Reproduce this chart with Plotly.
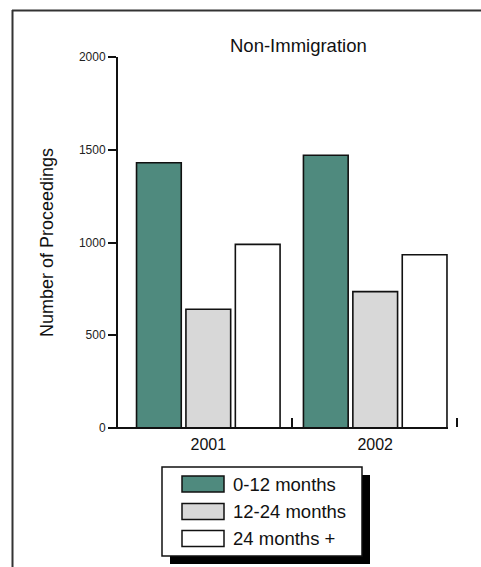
import plotly.graph_objects as go

# ---- data ----
years = ["2001", "2002"]
series_names = ["0-12 months", "12-24 months", "24 months +"]
v_0_12 = [1430, 1470]
v_12_24 = [640, 735]
v_24_plus = [990, 934]
series_colors = ["#4f8a7e", "#d8d8d8", "#ffffff"]
y_ticks = [0, 500, 1000, 1500, 2000]

W, H = 481, 567
ML, MR, MT, MB = 118, 23, 57, 139
PW, PH = W - ML - MR, H - MT - MB

def px(x):
    return (x - ML) / PW

def py(y):
    return (H - MB - y) / PH

FONT = "Liberation Sans, Arial, Helvetica, sans-serif"

fig = go.Figure()
offsets = [-0.43, -0.134, 0.162]
values = [v_0_12, v_12_24, v_24_plus]
xpos = list(range(len(years)))
for name, vals, col, off in zip(series_names, values, series_colors, offsets):
    fig.add_trace(go.Bar(
        x=xpos, y=vals, name=name, width=0.268, offset=off,
        marker=dict(color=col, line=dict(color="#111111", width=1.6)),
        showlegend=False,
    ))

shapes = []
# outer frame (top and left only)
shapes.append(dict(type="line", xref="paper", yref="paper",
                   x0=px(12), y0=py(10.5), x1=px(481), y1=py(10.5),
                   line=dict(color="#333333", width=2)))
shapes.append(dict(type="line", xref="paper", yref="paper",
                   x0=px(12.5), y0=py(10), x1=px(12.5), y1=py(567),
                   line=dict(color="#333333", width=2)))
# x axis line
shapes.append(dict(type="line", xref="paper", yref="paper",
                   x0=px(110), y0=py(428), x1=px(448), y1=py(428),
                   line=dict(color="#111111", width=2)))
# category separator ticks
for xt in [292, 457]:
    shapes.append(dict(type="line", xref="paper", yref="paper",
                       x0=px(xt), y0=py(418), x1=px(xt), y1=py(427),
                       line=dict(color="#111111", width=2)))

# legend box with shadow
lx0, ly0, lx1, ly1 = 162, 467, 362, 556
shapes.append(dict(type="rect", xref="paper", yref="paper",
                   x0=px(lx0 + 8), y0=py(ly0 + 8), x1=px(lx1 + 8), y1=py(ly1 + 8),
                   fillcolor="#000000", line=dict(width=0), layer="above"))
shapes.append(dict(type="rect", xref="paper", yref="paper",
                   x0=px(lx0), y0=py(ly0), x1=px(lx1), y1=py(ly1),
                   fillcolor="#ffffff", line=dict(color="#111111", width=1.5), layer="above"))
annotations = []
item_y = [484, 511.5, 538.5]
for name, col, yc in zip(series_names, series_colors, item_y):
    shapes.append(dict(type="rect", xref="paper", yref="paper",
                       x0=px(182), y0=py(yc - 8), x1=px(224), y1=py(yc + 8),
                       fillcolor=col, line=dict(color="#111111", width=1.5), layer="above"))
    annotations.append(dict(xref="paper", yref="paper", x=px(231), y=py(yc),
                            text=name, showarrow=False, xanchor="left", yanchor="middle",
                            font=dict(family=FONT, size=18.5, color="#111111")))

# title & y-axis title
annotations.append(dict(xref="paper", yref="paper", x=px(298), y=py(45),
                        text="Non-Immigration", showarrow=False,
                        xanchor="center", yanchor="middle",
                        font=dict(family=FONT, size=18.5, color="#111111")))
annotations.append(dict(xref="paper", yref="paper", x=px(47), y=py(243),
                        text="Number of Proceedings", showarrow=False, textangle=-90,
                        xanchor="center", yanchor="middle",
                        font=dict(family=FONT, size=18, color="#111111")))

fig.update_layout(
    width=W, height=H,
    margin=dict(l=ML, r=MR, t=MT, b=MB, pad=0),
    paper_bgcolor="white", plot_bgcolor="white",
    barmode="overlay",
    shapes=shapes, annotations=annotations,
    font=dict(family=FONT, color="#111111"),
    xaxis=dict(range=[-0.541, 1.496], tickvals=xpos, ticktext=years,
               showline=False, showgrid=False, zeroline=False, ticks="",
               ticklabelstandoff=5,
               tickfont=dict(size=16, family=FONT), fixedrange=True),
    yaxis=dict(range=[0, 2000], tickvals=y_ticks, showline=True, linecolor="#111111",
               linewidth=2, ticks="outside", ticklen=8, tickwidth=2, tickcolor="#111111",
               showgrid=False, zeroline=False, tickfont=dict(size=12, family=FONT, color="#222222"),
               fixedrange=True),
)

fig.write_html("out.html")
